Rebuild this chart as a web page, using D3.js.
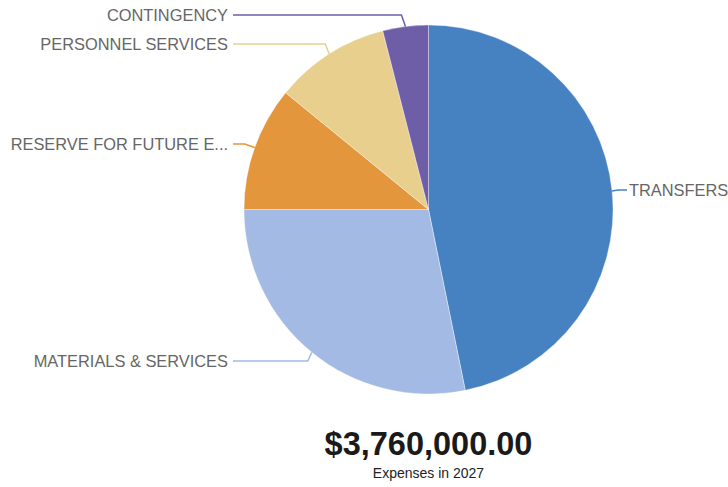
<!DOCTYPE html>
<html>
<head>
<meta charset="utf-8">
<script src="https://cdn.jsdelivr.net/npm/d3@7"></script>
<style>
  html, body { margin: 0; padding: 0; background: #fff; }
  svg { display: block; font-family: "Liberation Sans", Arial, Helvetica, sans-serif; }
</style>
</head>
<body>
<svg id="chart" width="728" height="487"></svg>
<script>
// Expense categories for 2027, in drawing order (clockwise from 12 o'clock)
const categories = ["TRANSFERS", "MATERIALS & SERVICES", "RESERVE FOR FUTURE EXPENDITURES", "PERSONNEL SERVICES", "CONTINGENCY"];
const amounts = [1760000, 1060000, 410000, 380000, 150000];
const colors = ["#4682c1", "#a3bbe4", "#e3963b", "#e8cf8d", "#6e5da7"];
const year = 2027;

const svg = d3.select("#chart");
const cx = 428.5, cy = 209.5, radius = 184.5;

const data = categories.map((c, i) => ({ name: c, value: amounts[i], color: colors[i] }));

const pie = d3.pie().sort(null).value(d => d.value);
const arcs = pie(data);
const arc = d3.arc().innerRadius(0).outerRadius(radius);

const g = svg.append("g").attr("transform", `translate(${cx},${cy})`);

g.selectAll("path.slice")
  .data(arcs)
  .enter().append("path")
  .attr("class", "slice")
  .attr("d", arc)
  .attr("fill", d => d.data.color)
  .attr("stroke", "#ffffff")
  .attr("stroke-width", 0.6)
  .attr("stroke-opacity", 0.6);

// Label vertical placement (y of each label's middle)
const labelY = {
  "TRANSFERS": 190,
  "MATERIALS & SERVICES": 361,
  "RESERVE FOR FUTURE EXPENDITURES": 144,
  "PERSONNEL SERVICES": 44,
  "CONTINGENCY": 15
};
const maxLabelWidth = 220;
const leftTextEnd = 228, leftLineEnd = 233;
const rightLineEnd = 627, rightTextStart = 629;

function truncate(textSel, maxW) {
  const full = textSel.text();
  if (textSel.node().getComputedTextLength() <= maxW) return;
  let s = full;
  while (s.length > 1) {
    s = s.slice(0, -1);
    textSel.text(s.trimEnd() + "...");
    if (textSel.node().getComputedTextLength() <= maxW) return;
  }
}

const labels = svg.append("g");
arcs.forEach(a => {
  const mid = (a.startAngle + a.endAngle) / 2;
  const px = cx + radius * Math.sin(mid);
  const py = cy - radius * Math.cos(mid);
  const ly = labelY[a.data.name];
  const right = Math.sin(mid) > 0;
  let pts;
  if (right) {
    pts = [[px, py], [px + 6, ly], [rightLineEnd, ly]];
  } else {
    const bend = Math.abs(ly - py) > 6 ? [px - 4, ly] : [px - 10, ly];
    pts = [[px, py], bend, [leftLineEnd, ly]];
  }
  labels.append("path")
    .attr("d", d3.line()(pts))
    .attr("fill", "none")
    .attr("stroke", a.data.color)
    .attr("stroke-width", 1.5);
  const t = labels.append("text")
    .attr("x", right ? rightTextStart : leftTextEnd)
    .attr("y", ly)
    .attr("dy", "0.35em")
    .attr("text-anchor", right ? "start" : "end")
    .attr("font-size", 16.4)
    .attr("fill", "#666666")
    .text(a.data.name);
  truncate(t, maxLabelWidth);
});

const total = d3.sum(amounts);
const fmt = d3.format("$,.2f");
svg.append("text")
  .attr("x", cx)
  .attr("y", 455)
  .attr("text-anchor", "middle")
  .attr("font-size", 32.5)
  .attr("font-weight", "bold")
  .attr("fill", "#1a1a1a")
  .text(fmt(total));
svg.append("text")
  .attr("x", cx)
  .attr("y", 478)
  .attr("text-anchor", "middle")
  .attr("font-size", 14)
  .attr("fill", "#222222")
  .text(`Expenses in ${year}`);
</script>
</body>
</html>
